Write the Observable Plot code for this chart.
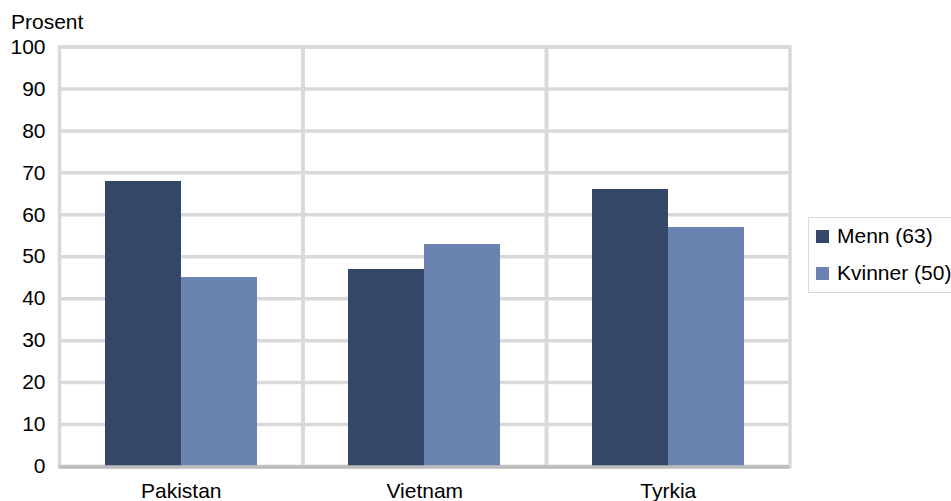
<!DOCTYPE html>
<html>
<head>
<meta charset="utf-8">
<script src="https://cdn.jsdelivr.net/npm/d3@7"></script>
<script src="https://cdn.jsdelivr.net/npm/@observablehq/plot@0.6"></script>
<style>
  html, body { margin: 0; padding: 0; background: #fff; }
  #wrap { position: relative; width: 951px; height: 501px; overflow: hidden; font-family: "Liberation Sans", Arial, sans-serif; }
  #ylabel { position: absolute; left: 11px; top: 10px; font-size: 21px; color: #000; }
  #legend { position: absolute; left: 808px; top: 217px; width: 160px; height: 76px; border: 1px solid #d9d9d9; box-sizing: border-box; font-size: 21px; color: #000; }
  .item { position: absolute; left: 7px; display: flex; align-items: center; white-space: nowrap; }
  .sw { width: 13px; height: 13px; margin-right: 8px; }
</style>
</head>
<body>
<div id="wrap">
  <div id="chart"></div>
  <div id="ylabel">Prosent</div>
  <div id="legend"></div>
</div>
<script>
const countries = ["Pakistan", "Vietnam", "Tyrkia"];
const series = ["Menn (63)", "Kvinner (50)"];
const menn = [68, 47, 66];
const kvinner = [45, 53, 57];
const yTicks = [0, 10, 20, 30, 40, 50, 60, 70, 80, 90, 100];
const colors = ["#344768", "#6b83b0"];

const data = [];
countries.forEach((c, i) => {
  data.push({country: c, series: series[0], value: menn[i]});
  data.push({country: c, series: series[1], value: kvinner[i]});
});

const grid = "#d9d9d9";
const chart = Plot.plot({
  width: 951,
  height: 501,
  marginTop: 46.5,
  marginBottom: 35,
  marginLeft: 59,
  marginRight: 161.5,
  style: {fontFamily: "Liberation Sans, Arial, sans-serif", fontSize: "21px", color: "#000", background: "#fff"},
  fx: {domain: countries, padding: 0, round: false, axis: "bottom", tickSize: 0, tickPadding: 17, label: null},
  x: {domain: series, paddingInner: 0, paddingOuter: 0.6, round: false, axis: null},
  y: {domain: [0, 100], ticks: yTicks, tickSize: 0, tickPadding: 14, label: null, tickFormat: d => String(d)},
  color: {domain: series, range: colors},
  marks: [
    Plot.ruleY(yTicks, {stroke: grid, strokeWidth: 3.5}),
    Plot.frame({stroke: grid, strokeWidth: 3.5}),
    Plot.barY(data, {fx: "country", x: "series", y: "value", fill: "series", insetLeft: 0, insetRight: 0, shapeRendering: "crispEdges"}),
    Plot.ruleY([0], {stroke: "#bcbcbc", strokeWidth: 3.5, dy: 0.5})
  ]
});
document.getElementById("chart").appendChild(chart);

const legend = document.getElementById("legend");
series.forEach((s, i) => {
  const it = document.createElement("div");
  it.className = "item";
  it.style.top = (i === 0 ? 6 : 43) + "px";
  const sw = document.createElement("span");
  sw.className = "sw";
  sw.style.background = colors[i];
  const tx = document.createElement("span");
  tx.textContent = s;
  it.appendChild(sw);
  it.appendChild(tx);
  legend.appendChild(it);
});
</script>
</body>
</html>
